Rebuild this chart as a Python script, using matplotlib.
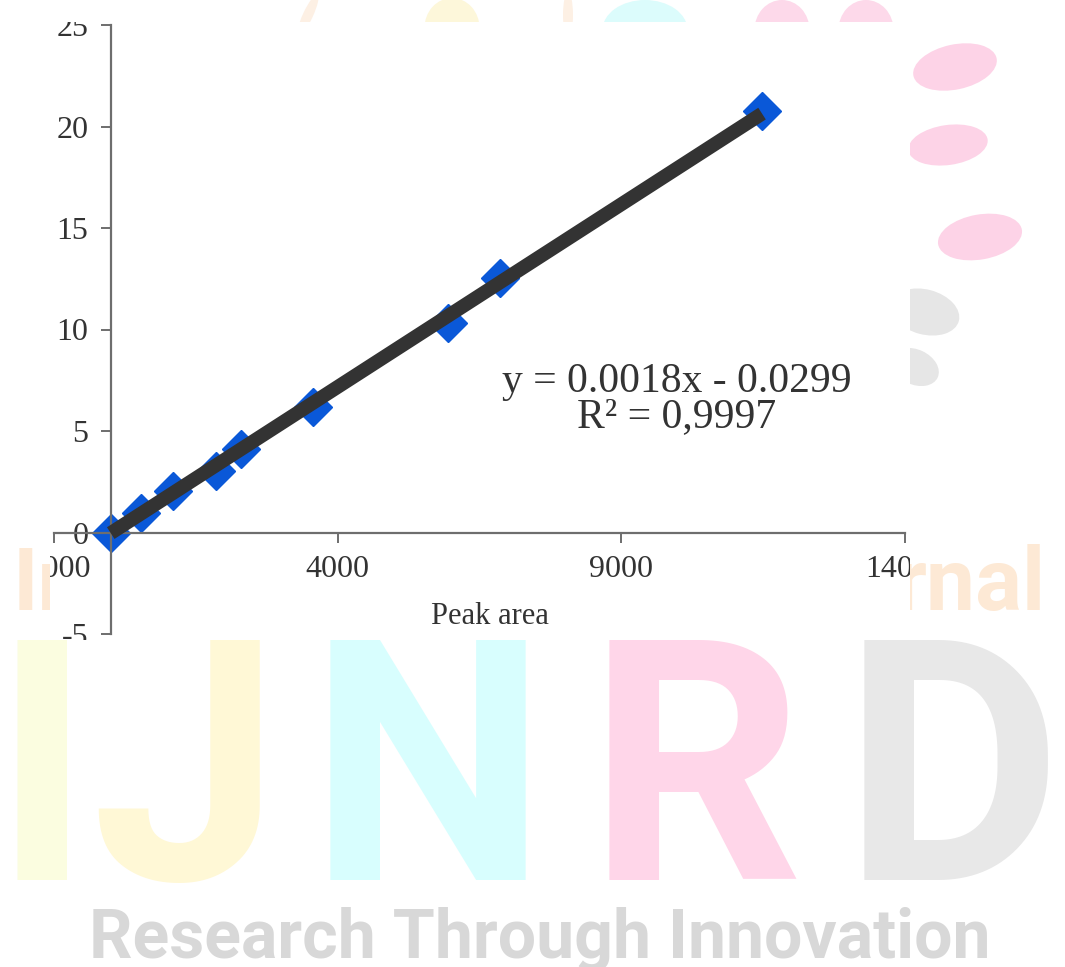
import numpy as np
import matplotlib
matplotlib.use('Agg')
import matplotlib.pyplot as plt
from matplotlib.patches import Rectangle, Ellipse
from matplotlib.transforms import Bbox

# calibration points
peak_area = [0, 530, 1090, 1850, 2290, 3560, 5950, 6870, 11480]
conc = [0.0, 0.95, 2.05, 3.05, 4.1, 6.2, 10.3, 12.55, 20.75]

# trendline as printed on the chart
slope = 0.0018
intercept = -0.0299
eq_lines = ['y = 0.0018x - 0.0299', 'R² = 0,9997']

x_ticks = [-1000, 4000, 9000, 14000]
y_ticks = [-5, 0, 5, 10, 15, 20, 25]

# watermark bits
wm_letters = ['I', 'J', 'N', 'R', 'D']
wm_colors = ['#fbfde0', '#fff8d6', '#d8fefe', '#ffd6e9', '#e8e8e8']
wm_x = [42, 185, 428, 695, 952]

W, H = 1065, 967
plt.rcParams['font.family'] = 'Liberation Serif'
plt.rcParams['axes.unicode_minus'] = False

fig = plt.figure(figsize=(W / 100, H / 100), dpi=100)
fig.patch.set_facecolor('white')


def fx(px):
    return px / W


def fy(py):
    return 1 - py / H


# --- background watermark ---
for ch, xc, col in zip(wm_letters, wm_x, wm_colors):
    fig.text(fx(xc), fy(880), ch, fontsize=243, family='Roboto', weight='bold',
             color=col, ha='center', va='baseline', zorder=0.5)

fig.text(fx(540), fy(958), 'Research Through Innovation', fontsize=49,
         family='Roboto', weight='bold', color='#d8d8d8', ha='center',
         va='baseline', zorder=0.5)
fig.text(fx(13), fy(610), 'In', fontsize=63, family='Roboto',
         weight='bold', color='#fde9d5', ha='left', va='baseline', zorder=0.5)
fig.text(fx(1045), fy(610), 'rnal', fontsize=63, family='Roboto',
         weight='bold', color='#fde9d5', ha='right', va='baseline', zorder=0.5)

blobs = [(955, 67, 85, 45, 12, '#fdd3e7'), (948, 145, 80, 40, 8, '#fdd3e7'),
         (980, 237, 85, 45, 10, '#fdd3e7'), (925, 312, 70, 45, -15, '#e6e6e6'),
         (915, 367, 50, 35, -25, '#e6e6e6'),
         (452, 28, 55, 60, 0, '#fdf7da'), (645, 30, 85, 60, 0, '#dcfcfc'),
         (782, 30, 55, 60, 0, '#fdd9ea'), (866, 30, 55, 60, 0, '#fdd9ea'),
         (308, 15, 10, 45, -25, '#fdf0e4'), (568, 15, 10, 45, 0, '#fdf0e4')]
for cx, cy, w, h, ang, col in blobs:
    fig.add_artist(Ellipse((cx / 100, (H - cy) / 100), w / 100, h / 100, angle=ang,
                           transform=fig.dpi_scale_trans, fc=col, ec='none', zorder=0.5))

# white box of the pasted chart
box_l, box_t, box_r, box_b = 50, 22, 910, 640
fig.add_artist(Rectangle((box_l / 100, (H - box_b) / 100), (box_r - box_l) / 100,
                         (box_b - box_t) / 100, transform=fig.dpi_scale_trans,
                         fc='white', ec='none', zorder=0.8))

# --- chart ---
ax = fig.add_axes([54 / W, 1 - 634 / H, (905 - 54) / W, 609 / H], zorder=1)
ax.patch.set_alpha(0)

ax.plot(peak_area, conc, ls='none', marker='D', ms=19, color='#0a58d8',
        mec='#0a58d8', zorder=2)
xf = np.array([min(peak_area), max(peak_area)])
ax.plot(xf, slope * xf + intercept, color='#333333', lw=10,
        solid_capstyle='butt', zorder=3)

ax.set_xlim(-1000, 14000)
ax.set_ylim(-5, 25)
ax.set_xticks(x_ticks)
ax.set_yticks(y_ticks)

ax.spines['left'].set_position(('data', 0))
ax.spines['bottom'].set_position(('data', 0))
ax.spines['top'].set_visible(False)
ax.spines['right'].set_visible(False)
for s in ['left', 'bottom']:
    ax.spines[s].set_color('#6e6e6e')
    ax.spines[s].set_linewidth(1.6)

ax.tick_params(direction='out', length=7, width=1.4, color='#6e6e6e',
               labelsize=23, labelcolor='#333333', pad=9)

ax.text(0.512, 0.028, 'Peak area', transform=ax.transAxes, fontsize=22,
        color='#333333', ha='center', va='center')
ax.text(9980, 7.44, eq_lines[0], fontsize=30, color='#333333', ha='center', va='center')
ax.text(9980, 5.71, eq_lines[1], fontsize=30, color='#333333', ha='center', va='center')

# labels are cut at the edge of the pasted chart
fig.canvas.draw()
clip = Bbox.from_extents(box_l, H - box_b, box_r, H - box_t)
for t in ax.get_xticklabels() + ax.get_yticklabels():
    t.set_clip_box(clip)
    t.set_clip_on(True)

fig.savefig('out.png', dpi=100)
